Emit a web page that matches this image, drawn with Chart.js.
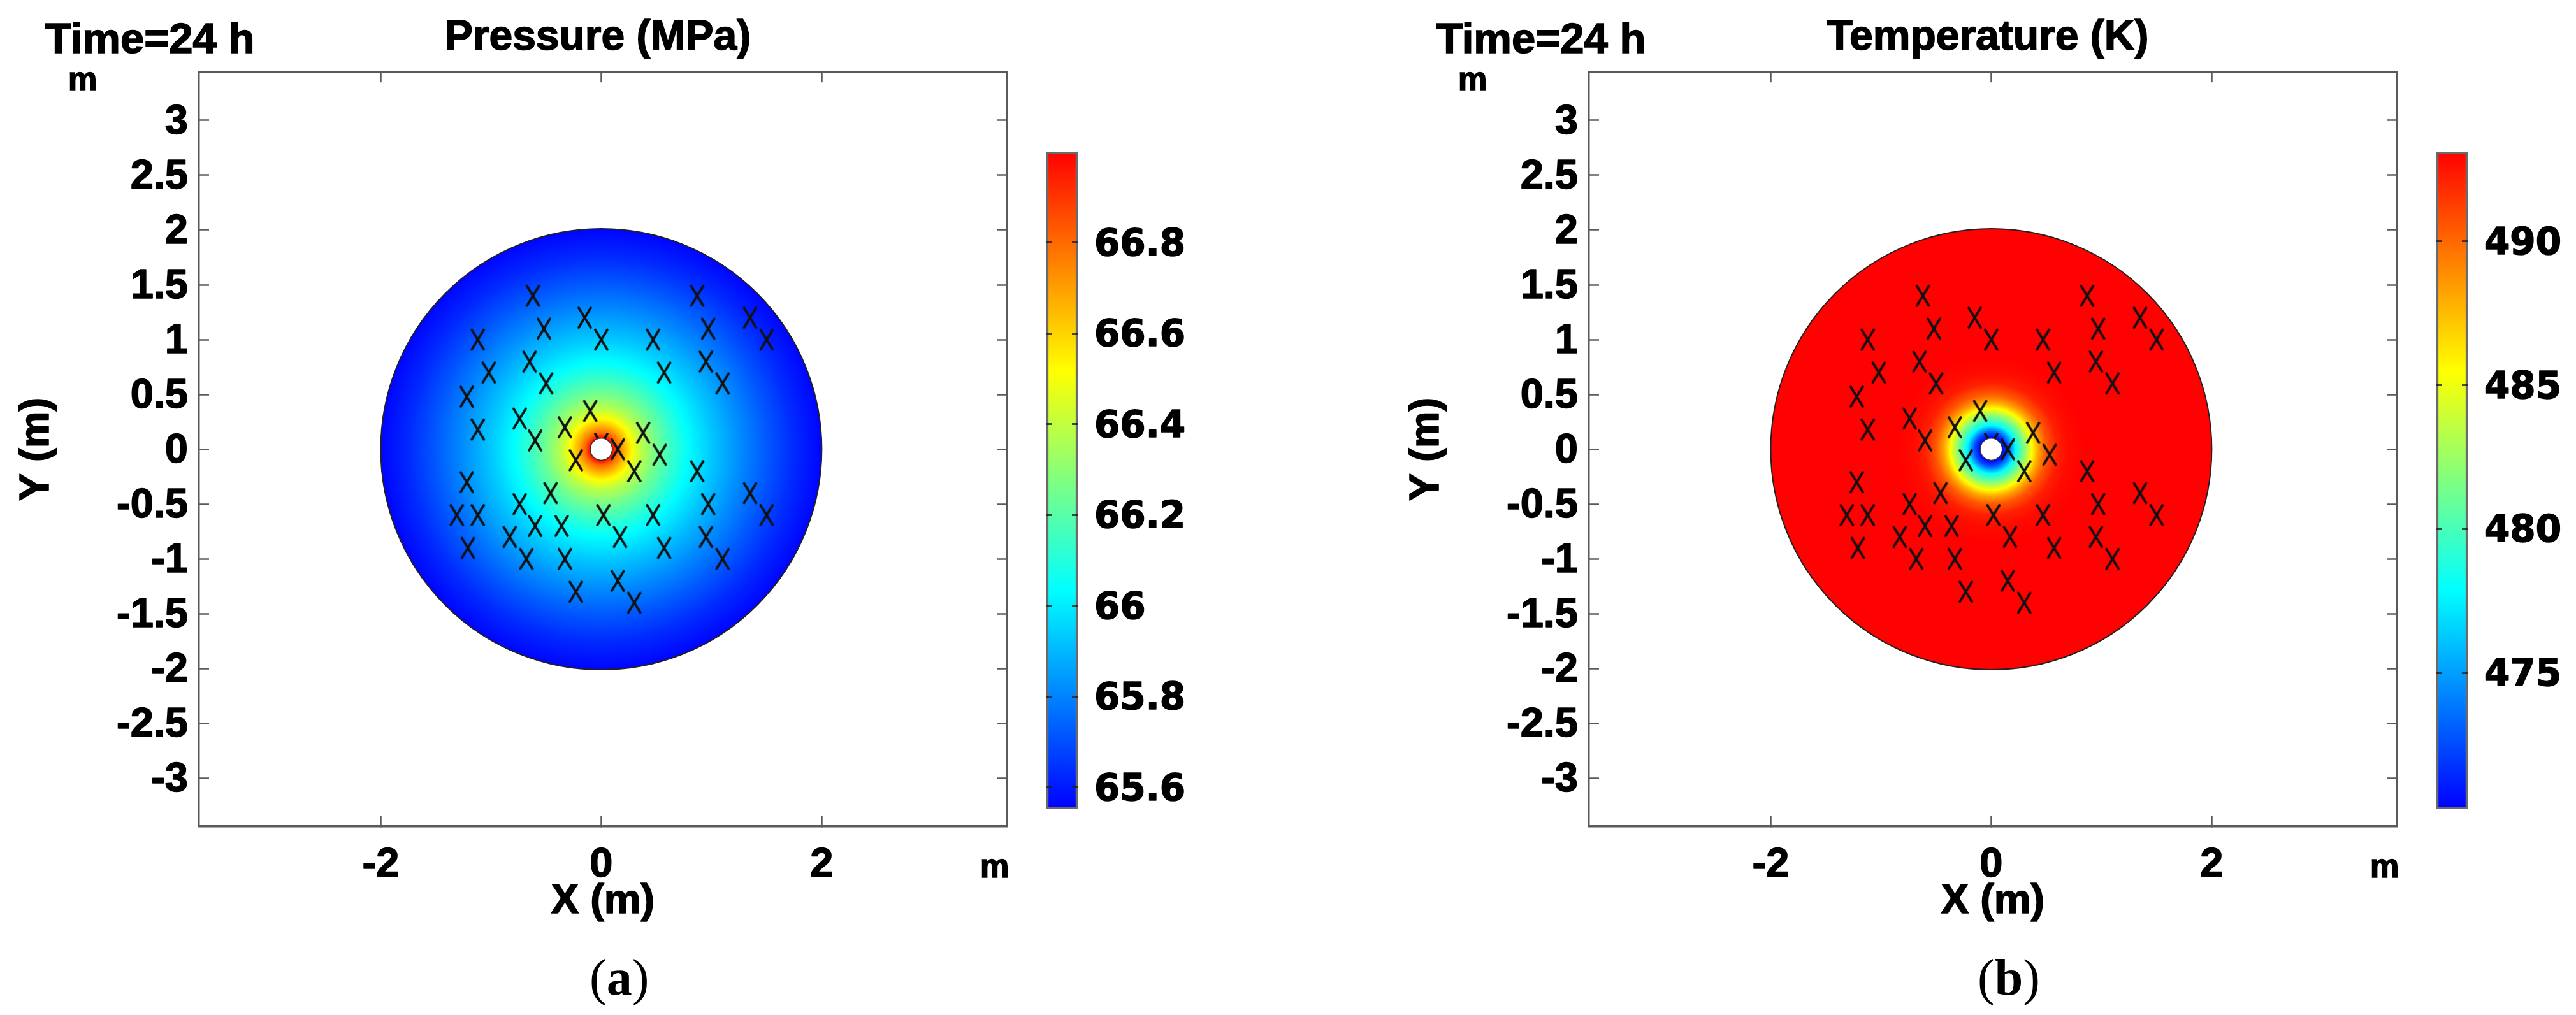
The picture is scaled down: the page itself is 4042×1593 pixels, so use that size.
<!DOCTYPE html>
<html>
<head>
<meta charset="utf-8">
<title>Pressure and temperature</title>
<script src="https://cdn.jsdelivr.net/npm/chart.js@4/dist/chart.umd.min.js"></script>
<style>
    html, body { margin: 0; padding: 0; background: #fff; }
    body { position: relative; width: 4042px; height: 1593px; overflow: hidden; }
    canvas { position: absolute; top: 0; }
    .note { position: absolute; color: #000; line-height: 1; white-space: nowrap;
            font-family: "Liberation Sans", Arial, sans-serif; font-weight: bold; -webkit-text-stroke: 1.6px #000; }
    .time { top: 26px; font-size: 67px; }
    .unit { font-size: 51px; }
    .panel { top: 1494px; font-family: "Liberation Serif", serif; font-weight: normal; font-size: 80px; -webkit-text-stroke: 0; }
    .panel b { font-weight: bold; }
</style>
</head>
<body>
<canvas id="pressure_map" width="1876" height="1593" style="left:0"></canvas>
<canvas id="pressure_bar" width="401" height="1593" style="left:1620px"></canvas>
<canvas id="temperature_map" width="1876" height="1593" style="left:2181px"></canvas>
<canvas id="temperature_bar" width="241" height="1593" style="left:3801px"></canvas>

<div class="note time" style="left:71px">Time=24 h</div>
<div class="note unit" style="left:107px;top:99px">m</div>
<div class="note unit" style="left:1538px;top:1334px">m</div>
<div class="note panel" style="left:925px">(<b>a</b>)</div>

<div class="note time" style="left:2254px">Time=24 h</div>
<div class="note unit" style="left:2288px;top:99px">m</div>
<div class="note unit" style="left:3719px;top:1334px">m</div>
<div class="note panel" style="left:3103px">(<b>b</b>)</div>

<script>
// axis ticks
const xTicks = [-2, 0, 2];
const yTicks = [-3, -2.5, -2, -1.5, -1, -0.5, 0, 0.5, 1, 1.5, 2, 2.5, 3];
const xRange = [-3.65, 3.68];
const yRange = [-3.44, 3.44];

// sensor locations (m)
const sensorX = [-0.62, 0.87, -0.15, 1.35, -0.52, 0.97, -1.12, 0, 0.47, 1.5, -0.65, 0.95, -1.02, 0.57, -0.5, 1.1,
    -1.22, -0.1, -0.74, -0.33, -1.12, 0.38, -0.6, 0, 0.15, 0.53, -0.23, 0.3, 0.87, -1.22, -0.46, 1.35, -0.74, 0.97,
    -1.31, -1.12, 0.02, 0.47, 1.5, -0.6, -0.36, -0.83, 0.17, 0.95, -1.21, 0.57, -0.68, -0.33, 1.1, 0.15, -0.23, 0.3];
const sensorY = [1.4, 1.4, 1.2, 1.2, 1.1, 1.1, 1, 1, 1, 1, 0.8, 0.8, 0.7, 0.7, 0.6, 0.6,
    0.48, 0.35, 0.28, 0.2, 0.18, 0.15, 0.08, 0.05, 0, -0.05, -0.1, -0.2, -0.2, -0.3, -0.4, -0.4, -0.5, -0.5,
    -0.6, -0.6, -0.6, -0.6, -0.6, -0.7, -0.7, -0.8, -0.8, -0.8, -0.9, -0.9, -1, -1, -1, -1.2, -1.3, -1.4];

// well and reservoir radii (m)
const wellRadius = 0.1;
const domainRadius = 2;

// pressure against radius
const pressureRadii = [0.1, 0.14, 0.2, 0.28, 0.37, 0.5, 0.65, 0.79, 1, 1.25, 1.5, 1.75, 2];
const pressureValues = [67, 66.82, 66.68, 66.52, 66.38, 66.25, 66.13, 66.035, 65.93, 65.82, 65.72, 65.63, 65.56];
const pressureRange = [65.552, 67];
const pressureTicks = [65.6, 65.8, 66, 66.2, 66.4, 66.6, 66.8];

// temperature against radius
const temperatureRadii = [0.1, 0.15, 0.22, 0.3, 0.37, 0.43, 0.5, 0.6, 0.7, 0.85, 2];
const temperatureValues = [470.3, 472.5, 477.9, 481.8, 485.5, 488.3, 490.5, 492.2, 492.8, 493.1, 493.1];
const temperatureRange = [470.26, 493.12];
const temperatureTicks = [475, 480, 485, 490];

const colormap = [[0, 0, 255], [0, 255, 255], [128, 255, 128], [255, 255, 0], [255, 0, 0]];
const colormapStops = [0, 1 / 3, 1 / 2, 2 / 3, 1];

const frameColor = "#5a5a5a";
const tickFont = { family: '"Liberation Sans", Arial, sans-serif', weight: "bold", size: 65 };
const barFont = { family: '"DejaVu Sans", sans-serif', weight: "bold", size: 58 };

// the reference's lettering is heavier than plain bold
const heavyText = {
    id: "heavyText",
    beforeDraw(chart) {
        const c = chart.ctx;
        if (c.heavy) return;
        c.heavy = true;
        const fill = c.fillText.bind(c);
        c.fillText = (text, x, y, maxWidth) => {
            c.save();
            c.strokeStyle = "#000";
            c.lineWidth = 1.6;
            c.lineJoin = "round";
            c.strokeText(text, x, y);
            c.restore();
            fill(text, x, y, maxWidth);
        };
    }
};

function colorAt(t) {
    t = Math.min(1, Math.max(0, t));
    let i = 0;
    while (i < colormapStops.length - 2 && t > colormapStops[i + 1]) i++;
    let f = (t - colormapStops[i]) / (colormapStops[i + 1] - colormapStops[i]);
    let rgb = colormap[i].map((c, k) => Math.round(c + (colormap[i + 1][k] - c) * f));
    return "rgb(" + rgb.join(",") + ")";
}

function makeSensorMark() {
    let mark = document.createElement("canvas");
    mark.width = 25;
    mark.height = 37;
    let c = mark.getContext("2d");
    c.strokeStyle = "#111";
    c.lineWidth = 3.8;
    c.lineCap = "round";
    c.beginPath();
    c.moveTo(3, 3);
    c.lineTo(22, 34);
    c.moveTo(22, 3);
    c.lineTo(3, 34);
    c.stroke();
    return mark;
}

function frameAxis(position, range, ticks, extra) {
    return Object.assign({
        type: "linear",
        position: position,
        min: range[0],
        max: range[1],
        afterBuildTicks: s => { s.ticks = ticks.map(v => ({ value: v })); },
        border: { display: true, color: frameColor, width: 3.5 },
        grid: { drawOnChartArea: false, drawTicks: true, tickLength: -16, tickColor: frameColor, tickWidth: 2.5 },
        ticks: { display: false }
    }, extra);
}

function createMap(id, title, radii, values, range) {
    // scales have no pixels yet on the first pass of option resolving
    const radiusPx = (ctx, r) => {
        let x = ctx.chart.scales.x;
        let px = x ? x.getPixelForValue(r) - x.getPixelForValue(0) : 0;
        return Number.isFinite(px) ? px : 0;
    };
    const fieldFill = ctx => {
        let R = radiusPx(ctx, domainRadius);
        if (R <= 0) return "#00f";
        let cx = ctx.chart.scales.x.getPixelForValue(0);
        let cy = ctx.chart.scales.y.getPixelForValue(0);
        if (!Number.isFinite(cx) || !Number.isFinite(cy)) return "#00f";
        let g = ctx.chart.ctx.createRadialGradient(cx, cy, 0, cx, cy, R);
        radii.forEach((r, i) => {
            g.addColorStop(r / domainRadius, colorAt((values[i] - range[0]) / (range[1] - range[0])));
        });
        return g;
    };
    const data = {
        datasets: [
            {
                label: "Well",
                data: [{ x: 0, y: 0 }],
                pointRadius: ctx => radiusPx(ctx, wellRadius),
                pointBackgroundColor: "#fff",
                pointBorderColor: "#333",
                pointBorderWidth: 1.5
            },
            {
                label: "Sensors",
                data: sensorX.map((x, i) => ({ x: x, y: sensorY[i] })),
                pointStyle: makeSensorMark()
            },
            {
                label: title,
                data: [{ x: 0, y: 0 }],
                pointRadius: ctx => radiusPx(ctx, domainRadius),
                pointBackgroundColor: fieldFill,
                pointBorderColor: "#222",
                pointBorderWidth: 2
            }
        ]
    };
    const config = {
        type: "scatter",
        data: data,
        plugins: [heavyText],
        options: {
            responsive: false,
            animation: false,
            events: [],
            devicePixelRatio: 1,
            layout: { padding: 0 },
            plugins: {
                legend: { display: false },
                tooltip: { enabled: false },
                title: {
                    display: true,
                    text: title,
                    color: "#000",
                    fullSize: true,
                    font: { family: tickFont.family, weight: "bold", size: 66 },
                    padding: { top: 20, bottom: 14 }
                }
            },
            scales: {
                x: frameAxis("bottom", xRange, xTicks, {
                    afterFit: s => { s.height = 296; },
                    ticks: { display: true, color: "#000", font: tickFont, padding: 38, maxRotation: 0, autoSkip: false, callback: v => String(v) },
                    title: {
                        display: true, text: "X (m)", color: "#000",
                        font: { family: tickFont.family, weight: "bold", size: 65 },
                        padding: { top: 0, bottom: 139 }
                    }
                }),
                x2: frameAxis("top", xRange, xTicks, { afterFit: s => { s.height = 0; } }),
                y: frameAxis("left", yRange, yTicks, {
                    afterFit: s => { s.width = 312; },
                    ticks: { display: true, color: "#000", font: tickFont, padding: 33, labelOffset: 3, autoSkip: false, callback: v => String(v) },
                    title: {
                        display: true, text: "Y (m)", color: "#000",
                        font: { family: tickFont.family, weight: "bold", size: 65 },
                        padding: { top: 19, bottom: 0 }
                    }
                }),
                y2: frameAxis("right", yRange, yTicks, { afterFit: s => { s.width = 296; } })
            }
        }
    };
    return new Chart(document.getElementById(id), config);
}

function createColorbar(id, range, ticks, axisWidth) {
    const barFill = ctx => {
        let y = ctx.chart.scales.y;
        let y0 = y ? y.getPixelForValue(range[0]) : NaN;
        let y1 = y ? y.getPixelForValue(range[1]) : NaN;
        if (!Number.isFinite(y0) || !Number.isFinite(y1)) return "#00f";
        let g = ctx.chart.ctx.createLinearGradient(0, y0, 0, y1);
        colormap.forEach((c, i) => g.addColorStop(colormapStops[i], "rgb(" + c.join(",") + ")"));
        return g;
    };
    const barGrid = { drawOnChartArea: false, drawTicks: true, tickLength: -9, tickColor: "rgba(30,30,30,0.8)", tickWidth: 3, z: 1 };
    const config = {
        type: "bar",
        data: {
            labels: [""],
            datasets: [{
                data: [range],
                backgroundColor: barFill,
                borderColor: "#6a6a6a",
                borderWidth: 3.5,
                borderSkipped: false,
                barPercentage: 1,
                categoryPercentage: 1
            }]
        },
        plugins: [heavyText],
        options: {
            responsive: false,
            animation: false,
            events: [],
            devicePixelRatio: 1,
            layout: { padding: { top: 238, bottom: 323 } },
            plugins: { legend: { display: false }, tooltip: { enabled: false } },
            scales: {
                x: { display: false },
                y: frameAxis("right", range, ticks, {
                    afterFit: s => { s.width = axisWidth; },
                    border: { display: false },
                    grid: barGrid,
                    ticks: { display: true, color: "#000", font: barFont, padding: 35, labelOffset: 5, autoSkip: false, callback: v => String(v) }
                }),
                y2: frameAxis("left", range, ticks, {
                    afterFit: s => { s.width = 22; },
                    border: { display: false },
                    grid: barGrid
                })
            }
        }
    };
    return new Chart(document.getElementById(id), config);
}

function init() {
    createMap("pressure_map", "Pressure (MPa)", pressureRadii, pressureValues, pressureRange);
    createColorbar("pressure_bar", pressureRange, pressureTicks, 330);
    createMap("temperature_map", "Temperature (K)", temperatureRadii, temperatureValues, temperatureRange);
    createColorbar("temperature_bar", temperatureRange, temperatureTicks, 170);
}

init();
</script>
</body>
</html>
